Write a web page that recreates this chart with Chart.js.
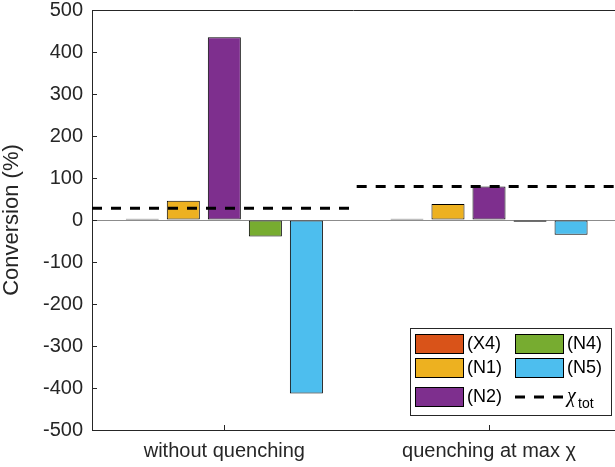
<!DOCTYPE html>
<html lang="en">
<head>
  <meta charset="UTF-8">
  <title>Conversion</title>
  <!-- Chart.js -->
  <script src="https://cdn.jsdelivr.net/npm/chart.js"></script>
  <style>
    body { margin: 0; background: #fff; }
  </style>
</head>
<body>
  <canvas id="convChart" width="615" height="467"></canvas>

  <script>
    // data
    const categories = ['without quenching', 'quenching at max \u03C7'];
    const seriesNames = ['(X4)', '(N1)', '(N2)', '(N4)', '(N5)'];
    const valX4 = [3, 3];
    const valN1 = [46, 38];
    const valN2 = [435, 80];
    const valN4 = [-39, -4];
    const valN5 = [-413, -35];
    const chiTot = [28, 80];

    const axisColor = '#262626';
    const fontFamily = '"Liberation Sans", Arial, sans-serif';
    const barColors = ['#D95319', '#EDB120', '#7E2F8E', '#77AC30', '#4DBEEE'];
    const seriesValues = [valX4, valN1, valN2, valN4, valN5];

    // bars sit at x = 1, 2 on a linear axis
    const toPoints = vals => vals.map((v, i) => ({ x: i + 1, y: v }));

    // chi_tot: one flat dashed segment over each group
    const chiPoints = [];
    chiTot.forEach((v, i) => {
      if (i > 0) chiPoints.push({ x: i + 0.5, y: null });
      chiPoints.push({ x: i + 0.5, y: v }, { x: i + 1.5, y: v });
    });

    const datasets = [{
      type: 'line',
      label: 'chi_tot',
      data: chiPoints,
      borderColor: '#000',
      borderWidth: 3,
      borderDash: [10, 9],
      pointRadius: 0,
      fill: false,
      spanGaps: false,
      order: 0
    }];
    seriesNames.forEach((name, i) => {
      datasets.push({
        type: 'bar',
        label: name,
        data: toPoints(seriesValues[i]),
        backgroundColor: barColors[i],
        borderColor: '#000',
        borderWidth: 1,
        borderSkipped: false,
        barPercentage: 0.805,
        categoryPercentage: 0.775,
        order: 1
      });
    });

    // inward ticks + top box line, like matlab
    const matlabAxes = {
      id: 'matlabAxes',
      afterDraw(chart) {
        const { ctx, chartArea: a, scales: { x, y } } = chart;
        ctx.save();
        ctx.strokeStyle = axisColor;
        ctx.lineWidth = 1;
        ctx.beginPath();
        ctx.moveTo(a.left, a.top + 0.5);
        ctx.lineTo(a.right, a.top + 0.5);
        y.ticks.forEach(t => {
          const py = Math.round(y.getPixelForValue(t.value)) + 0.5;
          ctx.moveTo(a.left, py);
          ctx.lineTo(a.left + 5, py);
        });
        x.ticks.forEach(t => {
          const px = Math.round(x.getPixelForValue(t.value)) + 0.5;
          ctx.moveTo(px, a.bottom);
          ctx.lineTo(px, a.bottom - 5);
        });
        ctx.stroke();
        ctx.restore();
      }
    };

    // two column legend in the lower right corner
    const boxLegend = {
      id: 'boxLegend',
      afterDraw(chart) {
        const ctx = chart.ctx;
        const ds = chart.data.datasets;
        const cols = [415, 515];
        const rows = [343.5, 367.5, 396.5];
        ctx.save();
        ctx.fillStyle = '#fff';
        ctx.fillRect(410.5, 328.5, 201, 87);
        ctx.strokeStyle = axisColor;
        ctx.lineWidth = 1;
        ctx.strokeRect(410.5, 328.5, 201, 87);

        ctx.font = '18px ' + fontFamily;
        ctx.textBaseline = 'middle';
        ds.filter(d => d.type === 'bar').forEach((d, i) => {
          const cx = cols[i < 3 ? 0 : 1];
          const cy = rows[i < 3 ? i : i - 3];
          ctx.fillStyle = d.backgroundColor;
          ctx.fillRect(cx, cy - 9.5, 48, 19);
          ctx.strokeStyle = '#000';
          ctx.strokeRect(cx + 0.5, cy - 9, 48, 19);
          ctx.fillStyle = '#000';
          ctx.fillText(d.label, cx + 52, cy + 1);
        });

        // dashed entry for chi_tot
        const lx = cols[1], ly = rows[2] + 0.5;
        ctx.strokeStyle = '#000';
        ctx.lineWidth = 3;
        ctx.setLineDash([10, 9]);
        ctx.beginPath();
        ctx.moveTo(lx, ly);
        ctx.lineTo(lx + 49, ly);
        ctx.stroke();
        ctx.setLineDash([]);
        ctx.fillStyle = '#000';
        ctx.textBaseline = 'alphabetic';
        ctx.font = 'italic 20px "Liberation Serif", serif';
        ctx.fillText('\u03C7', lx + 52, ly + 5);
        ctx.font = '14px ' + fontFamily;
        ctx.fillText('tot', lx + 63, ly + 11);
        ctx.restore();
      }
    };

    new Chart(document.getElementById('convChart'), {
      type: 'bar',
      data: { datasets: datasets },
      options: {
        responsive: false,
        animation: false,
        layout: { padding: { top: 10, left: 0, right: 0, bottom: 0 } },
        plugins: {
          legend: { display: false },
          tooltip: { enabled: false }
        },
        scales: {
          x: {
            type: 'linear',
            min: 0.5,
            max: 2.476,
            offset: false,
            grid: { display: false, offset: false },
            border: { display: true, color: axisColor, width: 1 },
            afterBuildTicks: s => { s.ticks = categories.map((c, i) => ({ value: i + 1 })); },
            ticks: {
              callback: v => categories[v - 1] || '',
              font: { family: fontFamily, size: 20 },
              color: axisColor,
              padding: 1,
              maxRotation: 0,
              autoSkip: false
            },
            afterFit: s => { s.height = 37; }
          },
          y: {
            min: -500,
            max: 500,
            ticks: {
              stepSize: 100,
              font: { family: fontFamily, size: 20, lineHeight: 1 },
              color: axisColor,
              padding: 0
            },
            grid: {
              drawTicks: true,
              tickLength: 9,
              tickColor: 'rgba(0,0,0,0)',
              color: c => (c.tick && c.tick.value === 0) ? '#8c8c8c' : 'rgba(0,0,0,0)'
            },
            border: { display: true, color: axisColor, width: 1 },
            title: {
              display: true,
              text: 'Conversion (%)',
              font: { family: fontFamily, size: 22, lineHeight: 1.1 },
              color: axisColor,
              padding: { top: 0, bottom: 0 }
            },
            afterFit: s => { s.width = 92; }
          }
        }
      },
      plugins: [matlabAxes, boxLegend]
    });
  </script>
</body>
</html>
